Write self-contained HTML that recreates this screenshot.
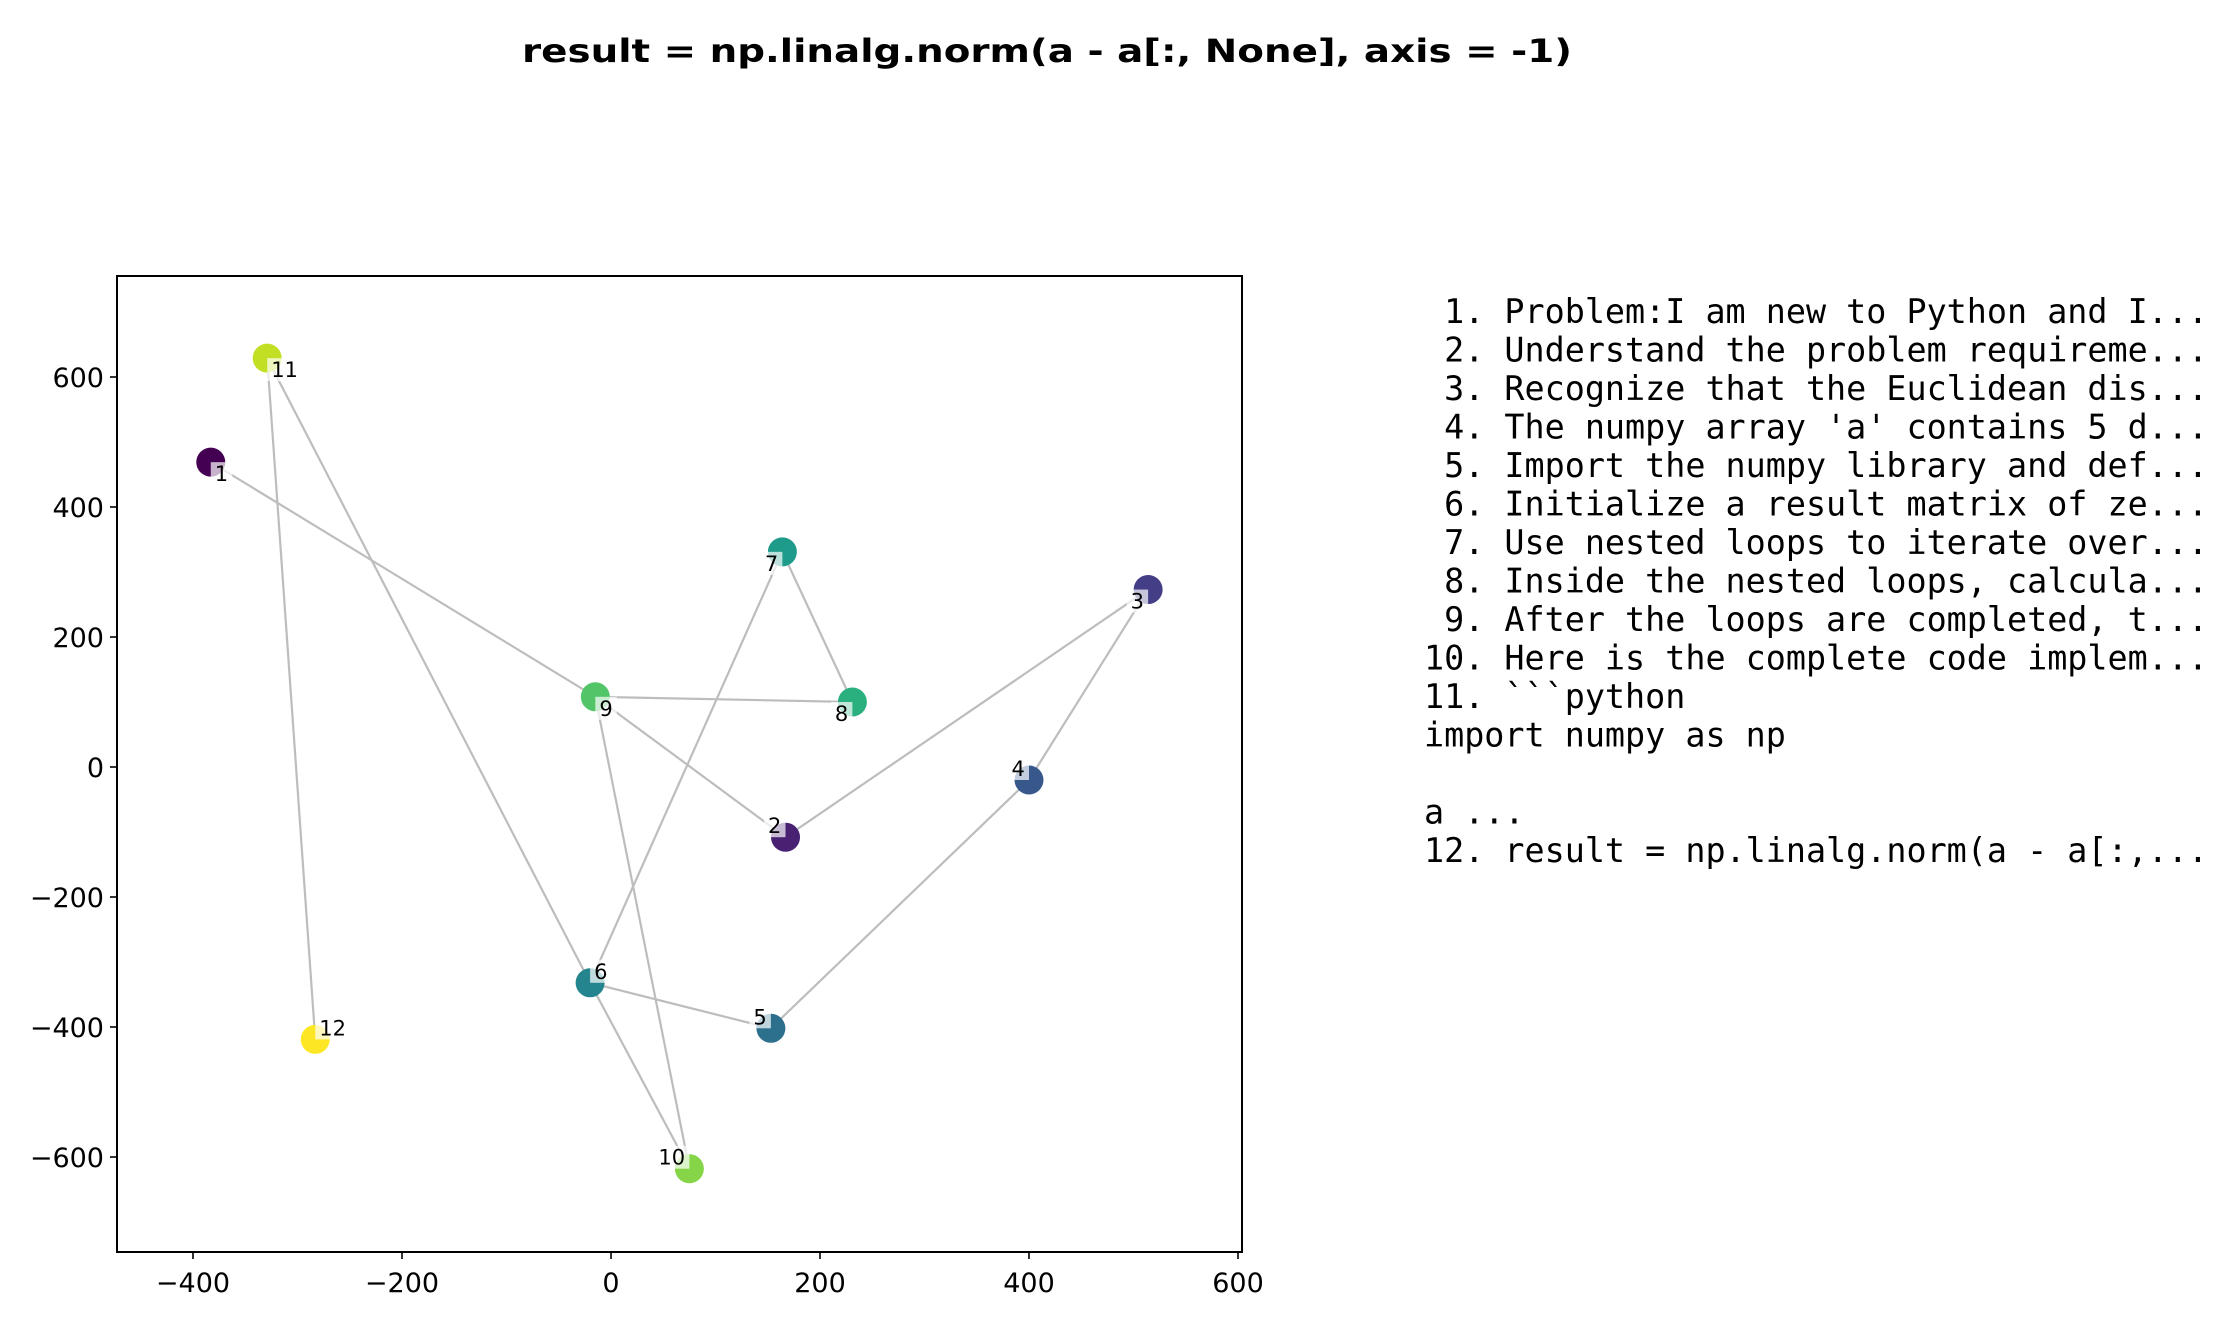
<!DOCTYPE html>
<html><head><meta charset="utf-8"><style>
html,body{margin:0;padding:0;background:#fff;}
svg{display:block;}
#steps text{white-space:pre;}
</style></head><body>
<svg id="chart" width="2228" height="1319" viewBox="0 0 2228 1319" xmlns="http://www.w3.org/2000/svg">
<rect width="2228" height="1319" fill="#fff"/>
<text x="1047" y="62" text-anchor="middle" font-family="DejaVu Sans, Liberation Sans, sans-serif" font-weight="bold" font-size="32" textLength="1050" lengthAdjust="spacingAndGlyphs">result = np.linalg.norm(a - a[:, None], axis = -1)</text>
<g id="plot" font-family="DejaVu Sans, Liberation Sans, sans-serif"></g>
<g id="steps" font-family="DejaVu Sans Mono, Liberation Mono, monospace" font-size="33.4" fill="#000">
<text x="1424" y="323"> 1. Problem:I am new to Python and I...</text>
<text x="1424" y="361.5"> 2. Understand the problem requireme...</text>
<text x="1424" y="400"> 3. Recognize that the Euclidean dis...</text>
<text x="1424" y="438.5"> 4. The numpy array 'a' contains 5 d...</text>
<text x="1424" y="477"> 5. Import the numpy library and def...</text>
<text x="1424" y="515.5"> 6. Initialize a result matrix of ze...</text>
<text x="1424" y="554"> 7. Use nested loops to iterate over...</text>
<text x="1424" y="592.5"> 8. Inside the nested loops, calcula...</text>
<text x="1424" y="631"> 9. After the loops are completed, t...</text>
<text x="1424" y="669.5">10. Here is the complete code implem...</text>
<text x="1424" y="708">11. &#96;&#96;&#96;python</text>
<text x="1424" y="746.5">import numpy as np</text>
<text x="1424" y="823.5">a ...</text>
<text x="1424" y="862">12. result = np.linalg.norm(a - a[:,...</text>
</g>
</svg>
<script>
const pointLabels = ['1','2','3','4','5','6','7','8','9','10','11','12'];
const xValues = [-383, 167, 514, 400, 153, -20, 164, 231, -15, 75, -329, -283];
const yValues = [469, -108, 273, -20, -402, -332, 331, 100, 108, -618, 629, -419];
const pathOrder = [1, 9, 2, 3, 4, 5, 6, 7, 8, 9, 10, 6, 11, 12];
const labelDirs = ['rb','lt','lb','lt','lt','rt','lb','lb','rb','lt','rb','rt'];
const colors = ['#440154','#482173','#433e85','#38588c','#2d708e','#25858e','#1e9b8a','#2ab07f','#52c569','#86d549','#c2df23','#fde725'];
const xTicks = [-400, -200, 0, 200, 400, 600];
const yTicks = [-600, -400, -200, 0, 200, 400, 600];

const NS = 'http://www.w3.org/2000/svg';
const L = 117, R = 1242, T = 276, B = 1252;
function sx(v){ return 611 + v * 1.045; }
function sy(v){ return 767 - v * 0.65; }
function mk(tag, attrs, parent){ const e = document.createElementNS(NS, tag); for (const k in attrs) e.setAttribute(k, attrs[k]); parent.appendChild(e); return e; }
const plot = document.getElementById('plot');

for (let i = 0; i < pathOrder.length - 1; i++) {
  const a = pathOrder[i] - 1, b = pathOrder[i + 1] - 1;
  const ln = mk('line', {x1: sx(xValues[a]), y1: sy(yValues[a]), x2: sx(xValues[b]), y2: sy(yValues[b]), stroke: '#bdbdbd', 'stroke-width': 2.2}, plot);
  
  
}
for (let i = 0; i < xValues.length; i++) {
  const c = mk('circle', {cx: sx(xValues[i]), cy: sy(yValues[i]), r: 14.5, fill: colors[i]}, plot);
  
  
}
for (let i = 0; i < xValues.length; i++) {
  const px = sx(xValues[i]), py = sy(yValues[i]);
  const d = labelDirs[i];
  const w = pointLabels[i].length * 13.5 + 8, h = 23;
  const bx = d[0] === 'r' ? px : px - w;
  const by = d[1] === 'b' ? py : py - h;
  const bg = mk('rect', {x: bx, y: by, width: w, height: h, fill: '#fff', 'fill-opacity': 0.7}, plot);
  
  
  const t = mk('text', {x: bx + 4, y: by + 19, 'font-size': 21}, plot);
  t.textContent = pointLabels[i];
  
  
}
const fr = mk('rect', {x: L, y: T, width: R - L, height: B - T, fill: 'none', stroke: '#000', 'stroke-width': 2}, plot);


xTicks.forEach(v => {
  const x = sx(v);
  const tk = mk('line', {x1: x, y1: B, x2: x, y2: B + 7, stroke: '#000', 'stroke-width': 1.6}, plot);
  
  
  const t = mk('text', {x: x, y: B + 40, 'text-anchor': 'middle', 'font-size': 27}, plot);
  t.textContent = v < 0 ? '\u2212' + Math.abs(v) : String(v);
  
  
});
yTicks.forEach(v => {
  const y = sy(v);
  const tk = mk('line', {x1: L - 7, y1: y, x2: L, y2: y, stroke: '#000', 'stroke-width': 1.6}, plot);
  
  
  const t = mk('text', {x: L - 13, y: y + 10, 'text-anchor': 'end', 'font-size': 27}, plot);
  t.textContent = v < 0 ? '\u2212' + Math.abs(v) : String(v);
  
  
});
</script>
</body></html>
